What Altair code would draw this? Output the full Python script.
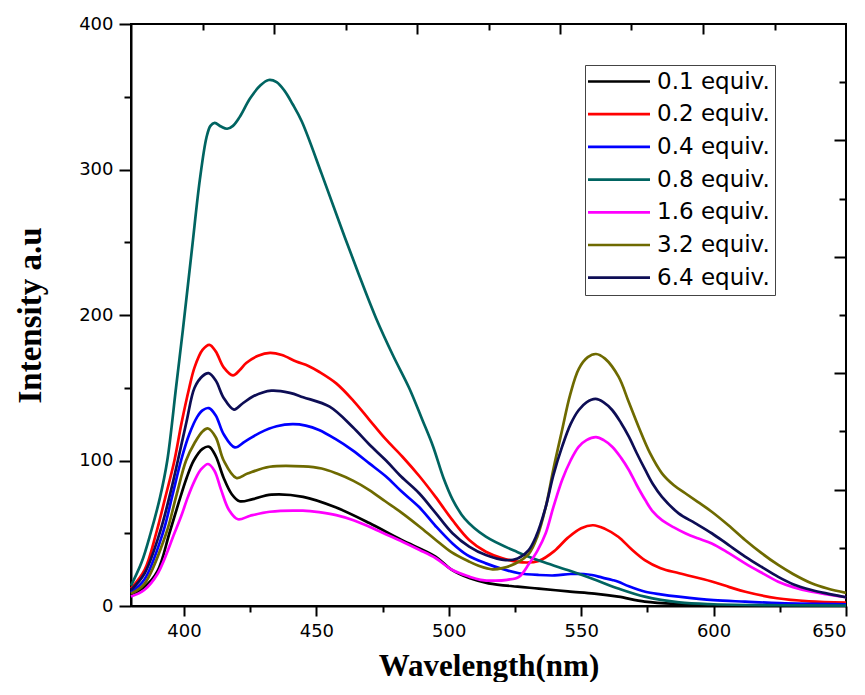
import altair as alt
import pandas as pd

series_names = ["0.1 equiv.", "0.2 equiv.", "0.4 equiv.", "0.8 equiv.",
                "1.6 equiv.", "3.2 equiv.", "6.4 equiv."]
series_colors = ["#000000", "#ff0000", "#0000ff", "#006461",
                 "#ff00ff", "#6e6a00", "#0d0d55"]

# 0.1 equiv.
wl_01 = [380, 385, 390, 394.5, 398, 401, 403.7, 407, 409.5, 412, 415, 418, 421, 426, 433,
         445, 457, 470, 482, 495, 501, 508, 515, 526, 534, 545, 555, 564, 574, 587, 600, 625, 650]
int_01 = [8, 13, 24, 50, 71, 88, 100, 108, 109.5, 103, 88, 77, 72, 73.5, 76.5,
          75, 68, 57, 45.5, 34, 25, 19, 15.6, 13.3, 12, 10, 8.5, 6.4, 3, 1.3, 0.6, 0.3, 0.2]

# 0.2 equiv.
wl_02 = [380, 385.2, 389.5, 393, 396.4, 399, 402, 404, 407, 409.6, 412, 415, 418.5, 421, 423.5,
         428, 432.5, 437, 442.4, 447, 451, 457.5, 464, 470, 476, 482.5, 489, 495, 501.4, 507.7,
         514, 520, 527.8, 534, 540, 545, 550, 554.5, 559, 564, 569, 574, 580, 587, 599, 606,
         612, 624, 636, 650]
int_02 = [12, 25, 50, 75, 100, 125, 150, 164, 176, 179.5, 175, 164, 158.5, 162, 167,
          172, 174, 172.5, 168, 165, 161, 153, 141, 128, 115, 102.6, 89, 75, 59, 45.4,
          37.3, 33, 30, 31, 38, 47, 53.5, 55.5, 53, 47.6, 39, 31.6, 26, 22.5, 17, 13,
          9.8, 5.3, 3.2, 2.3]

# 0.4 equiv.
wl_04 = [380, 385, 392, 395.5, 398.9, 402, 405, 407, 409.4, 412, 415, 419.2, 423, 428.6, 435,
         441, 446, 451, 457, 463.7, 470, 476.3, 482, 488.8, 495, 501.4, 507, 514, 521.5, 526.5,
         534, 540, 546, 551, 554, 558, 561.7, 564, 568, 574.2, 580, 586.8, 600, 611.9, 625, 650]
int_04 = [9.5, 18, 50, 75, 100, 118, 130, 134.5, 136, 131, 118, 109, 113, 119, 123.5,
          125, 124, 121, 115, 107, 98, 89, 79, 68, 55, 43, 35, 29.3, 24.7, 22.5,
          21.3, 21, 22, 22, 21.3, 19.5, 17.9, 16.7, 13.5, 9.8, 8, 6.4, 4, 3, 2, 1.2]

# 0.8 equiv.
wl_08 = [380, 384, 387.4, 391, 393.7, 397, 399.6, 403, 406, 408.5, 410, 411.6, 414, 416.3, 418.5,
         421, 425, 429, 432, 435, 438, 441, 444.5, 452, 459, 466, 472.5, 479, 485, 490, 494, 498,
         501.5, 506, 514, 526, 536, 546, 556, 564, 574, 587, 600, 625, 650]
int_08 = [14, 30, 50, 75, 100, 150, 190, 245, 293, 322, 330, 332, 329.5, 328, 330,
          336, 349, 358, 361.5, 360, 354, 345, 333, 297, 262, 228, 198, 172, 150, 128, 110, 88,
          73, 60, 47.6, 37, 30, 24, 17.5, 12, 6.4, 2.5, 1.2, 0.5, 0.3]

# 1.6 equiv.
wl_16 = [380, 385, 390, 396.4, 399, 401.5, 404, 406.5, 409.1, 411.5, 414, 417, 420.4, 425, 432.4,
         444.9, 451, 457.5, 464, 470, 476, 482.5, 489, 495.1, 501.4, 507.7, 512, 517.7, 522, 526.5,
         530.3, 533.5, 536.6, 539.5, 542.8, 546, 549.1, 552, 555.6, 558.5, 561.7, 565, 568, 571,
         574.2, 577, 580.5, 585, 589.3, 594, 599.3, 605.6, 611.9, 618, 624.4, 630, 637, 643, 650]
int_16 = [6.5, 11, 22, 50, 62, 75, 86, 94, 97.6, 93, 80, 66, 59.6, 62, 64.8,
          65.5, 64.5, 62.5, 59, 54.5, 49.5, 44.2, 38.5, 32.8, 24.7, 20.2, 18, 17.4, 18, 20,
          29, 38, 50, 68, 86.6, 100, 109.5, 114, 116, 114, 109.5, 102, 93.5, 83,
          72.8, 65, 59, 54, 50, 46.5, 43, 36.5, 29.3, 23, 16.7, 13, 9.8, 8, 6]

# 3.2 equiv.
wl_32 = [380, 385, 393.3, 397, 400.8, 404, 407, 409.1, 412, 415, 419.8, 424, 432.4, 445, 452,
         457.5, 464, 470, 476, 482.5, 489, 495.1, 501, 507.7, 511.5, 516.5, 520.2, 525, 530.3,
         533.5, 536.6, 539.5, 542.8, 545.8, 549.1, 552.5, 555.6, 559, 564.1, 568, 571.7, 576,
         580.5, 585, 589.3, 594, 599.3, 605.6, 611.9, 618, 624.4, 630, 637, 643, 650]
int_32 = [8.5, 15, 50, 75, 100, 112, 120, 122, 116, 100, 88, 91, 95.7, 96, 94.5,
          91.2, 86, 79.7, 72, 63.7, 54.5, 45.4, 37, 30.5, 27.5, 25.2, 26, 29, 36,
          48, 68, 94, 121, 145, 163, 171, 173.2, 170, 157.6, 140, 123, 105,
          91.2, 83, 77.5, 71.5, 64.8, 55.5, 45.4, 36.5, 28.2, 22, 15.6, 12, 9]

# 6.4 equiv.
wl_64 = [380, 385, 390.8, 394.5, 397.7, 401, 404, 407, 409.3, 412, 415, 418.9, 422, 426, 433,
         440, 445, 455, 463.7, 470, 476.3, 482, 488.8, 495, 501.4, 507.7, 514, 521.5, 526, 530,
         533, 536.6, 539.5, 542.8, 546, 549.1, 552, 555.4, 558.5, 561.7, 565, 568, 571, 574.2,
         577, 580.5, 586.8, 593, 599.3, 605.6, 611.9, 618, 624.4, 630, 637, 643, 650]
int_64 = [11, 22, 50, 75, 100, 127, 150, 158, 160, 155, 143, 135, 139, 144, 148,
          146.5, 143.5, 137, 123, 111, 100, 89, 77.5, 64, 50, 40.8, 35, 31.5, 32.6, 38,
          48, 68, 90, 109.5, 125, 134.7, 140, 142.3, 140, 134.7, 126, 116.4, 105, 93.5,
          84, 75, 63.7, 57, 50, 42, 34, 27, 20, 15, 11, 8.5, 6]

all_wl = [wl_01, wl_02, wl_04, wl_08, wl_16, wl_32, wl_64]
all_int = [int_01, int_02, int_04, int_08, int_16, int_32, int_64]

rows = []
for name, wls, vals in zip(series_names, all_wl, all_int):
    for w, v in zip(wls, vals):
        rows.append({"series": name, "wl": w, "val": v})
df = pd.DataFrame(rows)

x_ticks = [400, 425, 450, 475, 500, 525, 550, 575, 600, 625, 650]
y_ticks = [0, 50, 100, 150, 200, 250, 300, 350, 400]
top_ticks = [407, 434, 461, 488, 515, 542, 569, 596, 623]
right_ticks = [40, 80, 120, 160, 200, 240, 280, 320, 360]

W, H = 715, 582
x_scale = alt.Scale(domain=[380, 650], nice=False, zero=False)
y_scale = alt.Scale(domain=[0, 400], nice=False)

lines = alt.Chart(df).mark_line(strokeWidth=2.7, interpolate="catmull-rom").encode(
    x=alt.X("wl:Q", scale=x_scale, axis=alt.Axis(
        orient="bottom", values=x_ticks, format="d",
        labelExpr="datum.value % 50 === 0 ? datum.label : ''",
        tickSize={"condition": {"test": "datum.value % 50 === 0", "value": 10}, "value": 6},
        tickWidth=2, tickColor="black", domainColor="black", domainWidth=2,
        labelFont="DejaVu Sans", labelFontSize=18, labelColor="black", labelPadding=6,
        title="Wavelength(nm)", titleFont="Liberation Serif", titleFontWeight="bold",
        titleFontSize=31, titleColor="black", titlePadding=11, grid=False)),
    y=alt.Y("val:Q", scale=y_scale, axis=alt.Axis(
        orient="left", values=y_ticks, format="d",
        labelExpr="datum.value % 100 === 0 ? datum.label : ''",
        tickSize={"condition": {"test": "datum.value % 100 === 0", "value": 12}, "value": 7},
        tickWidth=2, tickColor="black", domainColor="black", domainWidth=2,
        labelFont="DejaVu Sans", labelFontSize=18, labelColor="black", labelPadding=6,
        title="Intensity a.u", titleFont="Liberation Serif", titleFontWeight="bold",
        titleFontSize=33, titleColor="black", titlePadding=31, grid=False)),
    color=alt.Color("series:N", scale=alt.Scale(domain=series_names, range=series_colors),
                    legend=alt.Legend(
                        title=None, orient="none", legendX=454, legendY=41,
                        symbolType="M-1.35,0H4.85", symbolSize=400, symbolStrokeWidth=2.7,
                        labelFont="DejaVu Sans", labelFontSize=23, labelColor="black",
                        labelOffset=44, rowPadding=8.7, padding=5,
                        strokeColor="#444444", fillColor="white")),
)

inner_ticks = alt.Chart(df).mark_point(opacity=0).encode(
    x=alt.X("wl:Q", scale=x_scale, axis=alt.Axis(
        orient="bottom", offset=-H, values=top_ticks, labels=False, domain=False,
        tickSize={"condition": {"test": "(datum.value - 380) % 54 === 0", "value": 10}, "value": 6},
        tickWidth=2, tickColor="black", title=None, grid=False)),
    y=alt.Y("val:Q", scale=y_scale, axis=alt.Axis(
        orient="left", offset=-W, values=right_ticks, labels=False, domain=False,
        tickSize={"condition": {"test": "datum.value % 80 === 0", "value": 12}, "value": 7},
        tickWidth=2, tickColor="black", title=None, grid=False)),
)

chart = alt.layer(lines, inner_ticks).resolve_axis(
    x="independent", y="independent"
).properties(
    width=W, height=H,
    autosize=alt.AutoSizeParams(type="none"),
    padding={"left": 123, "top": 16, "right": 10, "bottom": 76},
    background="white",
).configure_view(stroke="black", strokeWidth=2)

chart.save("out.html", embed_options={"renderer": "svg", "actions": False})
